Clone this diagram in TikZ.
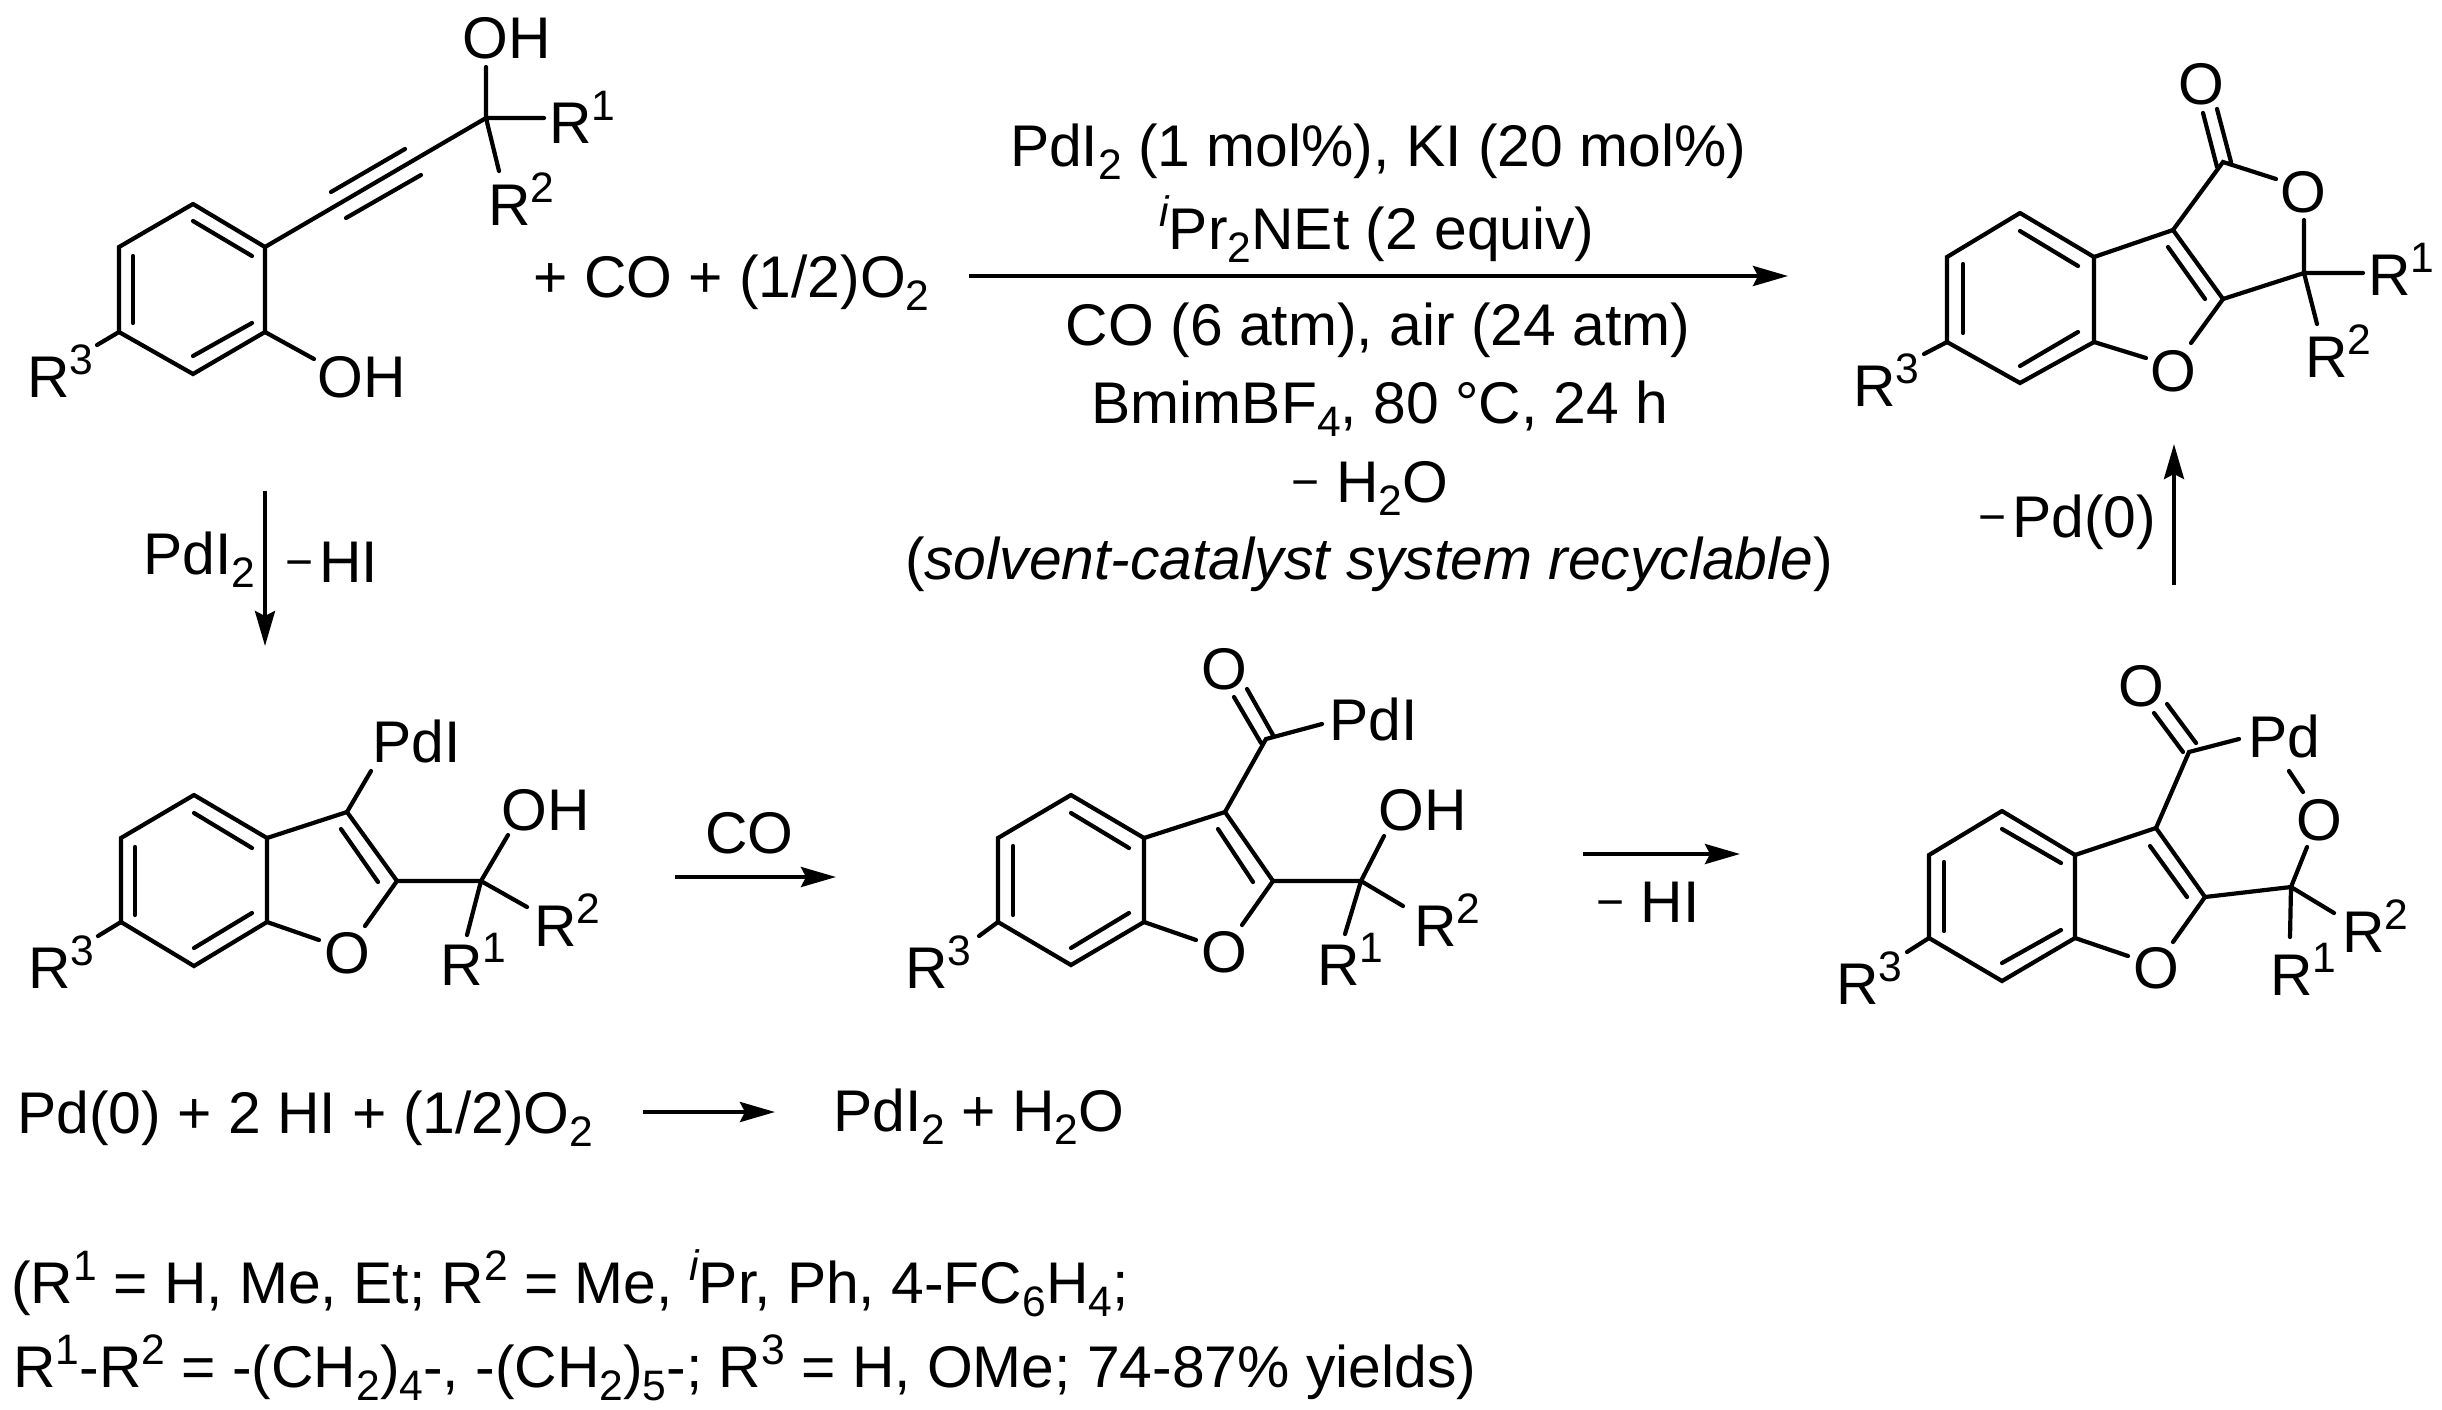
\documentclass[tikz,border=0pt]{standalone}
\usepackage{fontspec}
\setmainfont{Liberation Sans}
\usetikzlibrary{arrows.meta}
\newcommand{\ssup}[1]{\raisebox{11.5pt}{\fontsize{21.3}{21.3}\selectfont #1}}
\newcommand{\ssub}[1]{\raisebox{-6.5pt}{\fontsize{21.3}{21.3}\selectfont #1}}
\newcommand{\mns}{\raisebox{2pt}{\fontsize{24}{24}\selectfont −}}
\begin{document}
\begin{tikzpicture}[x=0.5pt,y=-0.5pt,
	bond/.style={line width=2.1pt,line cap=round},
	rxn/.style={line width=2pt,-{Stealth[length=17.5pt,width=10pt,inset=2.5pt]}},
	atom/.style={inner sep=0pt,anchor=base west,font=\fontsize{29.4}{32}\selectfont},
	atomc/.style={inner sep=0pt,anchor=base,font=\fontsize{29.4}{32}\selectfont}]
\useasboundingbox (0,0) rectangle (2442,1409);
\fill [white] (0,0) rectangle (2442,1409);

\coordinate (sa) at (193,204); \coordinate (sb) at (265,247); \coordinate (sc) at (265,332);
\coordinate (sd) at (193,374); \coordinate (se) at (119,332); \coordinate (sf) at (119,247);
\coordinate (sq) at (486,118); \coordinate (soh) at (486,67); \coordinate (srone) at (544,118);
\coordinate (srtwo) at (499,171); \coordinate (srthr) at (97,345); \coordinate (soht) at (314,359);
\draw [bond] (sa) -- (sb) -- (sc) -- (sd) -- (se) -- (sf) -- (sa);
\draw [bond] (193,221) -- (252,256);
\draw [bond] (133,256) -- (133,323);
\draw [bond] (193,356) -- (252,323);
\draw [bond] (sb) -- (sq) (331,192) -- (405,149) (346,218) -- (421,175);
\draw [bond] (soh) -- (sq) -- (srone) (sq) -- (srtwo);
\draw [bond] (se) -- (srthr) (sc) -- (soht);
\node [atom] (soh1) at (462,58) {OH};
\node [atom] (sr1) at (549,143) {R\ssup{1}};
\node [atom] (sr2) at (488,225) {R\ssup{2}};
\node [atom] (sr3) at (27,397) {R\ssup{3}};
\node [atom] (soh2) at (317,397) {OH};
\node [atom] (splus) at (533,297) {+ CO + (1/2)O\ssub{2}};

\coordinate (mainl) at (969,276); \coordinate (mainr) at (1788,276);
\draw [rxn] (mainl) -- (mainr);
\node [atomc] (cond1) at (1378,166) {PdI\ssub{2} (1 mol\%), KI (20 mol\%)};
\node [atomc] (cond2) at (1377,249) {\ssup{\itshape i}Pr\ssub{2}NEt (2 equiv)};
\node [atomc] (cond3) at (1378,345) {CO (6 atm), air (24 atm)};
\node [atomc] (cond4) at (1380,423) {BmimBF\ssub{4}, 80 °C, 24 h};
\node [atomc] (cond5) at (1370,502) {\mns{} H\ssub{2}O};
\node [atomc] (cond6) at (1369,579) {(\textit{solvent-catalyst system recyclable})};

\coordinate (pa) at (2020,213); \coordinate (pb) at (2094,257); \coordinate (pc) at (2094,342);
\coordinate (pd) at (2020,383); \coordinate (pe) at (1947,342); \coordinate (pf) at (1947,257);
\coordinate (pg) at (2173,230); \coordinate (ph) at (2223,299); \coordinate (pk) at (2223,162);
\coordinate (pq) at (2304,273);
\draw [bond] (pa) -- (pb) -- (pc) -- (pd) -- (pe) -- (pf) -- (pa);
\draw [bond] (2020,231) -- (2078,266);
\draw [bond] (1963,264) -- (1963,333);
\draw [bond] (2020,366) -- (2078,332);
\draw [bond] (pb) -- (pg) -- (ph) -- (pq) (2168,247) -- (2205,299);
\draw [bond] (pc) -- (2146,358) (ph) -- (2191,343);
\draw [bond] (pg) -- (pk) -- (2276,179) (2217,167) -- (2203,113) (2231,162) -- (2217,109);
\draw [bond] (2304,220) -- (pq) -- (2363,273) (pq) -- (2317,324) (pe) -- (1924,354);
\node [atomc] (pox) at (2201,104) {O};
\node [atomc] (po1) at (2303,212) {O};
\node [atomc] (po2) at (2173,391) {O};
\node [atom] (pr1) at (2368,295) {R\ssup{1}};
\node [atom] (pr2) at (2305,377) {R\ssup{2}};
\node [atom] (pr3) at (1853,406) {R\ssup{3}};

\coordinate (upb) at (2174,585); \coordinate (upt) at (2174,444);
\draw [rxn] (upb) -- (upt);
\node [atom] (lpd) at (1978,537) {\mns{}\hspace{3pt}Pd(0)};

\coordinate (dnt) at (265,491); \coordinate (dnb) at (265,646);
\draw [rxn] (dnt) -- (dnb);
\node [atom] (lpdi) at (143,574) {PdI\ssub{2}};
\node [atom] (lhi) at (285,582) {\mns{}\hspace{3pt}HI};

\coordinate (aa) at (194,795); \coordinate (ab) at (267,838); \coordinate (ac) at (267,922);
\coordinate (ad) at (194,966); \coordinate (ae) at (121,922); \coordinate (af) at (121,838);
\coordinate (ag) at (347,812); \coordinate (ah) at (397,881); \coordinate (aq) at (481,881);
\draw [bond] (aa) -- (ab) -- (ac) -- (ad) -- (ae) -- (af) -- (aa);
\draw [bond] (194,813) -- (252,848);
\draw [bond] (135,847) -- (135,915);
\draw [bond] (194,948) -- (252,913);
\draw [bond] (ab) -- (ag) -- (ah) -- (aq) (341,829) -- (378,882);
\draw [bond] (ac) -- (319,940) (ah) -- (365,926) (ag) -- (371,771);
\draw [bond] (aq) -- (508,835) (aq) -- (527,907) (aq) -- (467,935) (ae) -- (98,936);
\node [atomc] (ao) at (347,973) {O};
\node [atom] (apd) at (372,762) {PdI};
\node [atom] (aoh) at (501,830) {OH};
\node [atom] (ar1) at (440,985) {R\ssup{1}};
\node [atom] (ar2) at (534,946) {R\ssup{2}};
\node [atom] (ar3) at (28,988) {R\ssup{3}};

\coordinate (col) at (675,877); \coordinate (cor) at (836,877);
\draw [rxn] (col) -- (cor);
\node [atom] (lco) at (705,853) {CO};

\coordinate (ba) at (1071,795); \coordinate (bb) at (1144,838); \coordinate (bc) at (1144,922);
\coordinate (bd) at (1071,965); \coordinate (be) at (998,922); \coordinate (bf) at (998,838);
\coordinate (bg) at (1225,812); \coordinate (bh) at (1273,881); \coordinate (bk) at (1266,739);
\coordinate (bq) at (1361,881);
\draw [bond] (ba) -- (bb) -- (bc) -- (bd) -- (be) -- (bf) -- (ba);
\draw [bond] (1071,813) -- (1129,848);
\draw [bond] (1013,846) -- (1013,915);
\draw [bond] (1071,948) -- (1129,913);
\draw [bond] (bb) -- (bg) -- (bh) -- (bq) (1218,829) -- (1253,882);
\draw [bond] (bc) -- (1196,940) (bh) -- (1242,925);
\draw [bond] (bg) -- (bk) -- (1322,724) (1234,697) -- (1261,743) (1247,689) -- (1273,735);
\draw [bond] (bq) -- (1384,836) (bq) -- (1403,906) (bq) -- (1345,934) (be) -- (979,936);
\node [atomc] (bo) at (1224,972) {O};
\node [atomc] (box) at (1224,689) {O};
\node [atom] (bpd) at (1329,740) {PdI};
\node [atom] (boh) at (1378,830) {OH};
\node [atom] (br1) at (1317,985) {R\ssup{1}};
\node [atom] (br2) at (1414,946) {R\ssup{2}};
\node [atom] (br3) at (905,988) {R\ssup{3}};

\coordinate (hil) at (1583,854); \coordinate (hir) at (1740,854);
\draw [rxn] (hil) -- (hir);
\node [atom] (lhit) at (1596,922) {\mns{} HI};

\coordinate (ca) at (2002,811); \coordinate (cb) at (2075,855); \coordinate (cc) at (2075,938);
\coordinate (cd) at (2002,981); \coordinate (ce) at (1929,938); \coordinate (cf) at (1929,855);
\coordinate (cg) at (2156,828); \coordinate (ch) at (2205,897); \coordinate (ck) at (2189,752);
\coordinate (cq) at (2291,887);
\draw [bond] (ca) -- (cb) -- (cc) -- (cd) -- (ce) -- (cf) -- (ca);
\draw [bond] (2002,829) -- (2061,863);
\draw [bond] (1944,862) -- (1944,931);
\draw [bond] (2002,963) -- (2061,930);
\draw [bond] (cb) -- (cg) -- (ch) -- (cq) (2150,846) -- (2187,897);
\draw [bond] (cc) -- (2128,956) (ch) -- (2173,942);
\draw [bond] (cg) -- (ck) -- (2239,739) (2154,713) -- (2183,752) (2167,704) -- (2196,743);
\draw [bond] (2289,771) -- (2303,792) (2307,847) -- (cq);
\draw [bond] (cq) -- (2334,913) (cq) -- (2290,937) (ce) -- (1907,952);
\node [atomc] (co) at (2156,988) {O};
\node [atomc] (cox) at (2141,706) {O};
\node [atomc] (cot) at (2319,840) {O};
\node [atom] (cpd) at (2248,757) {Pd};
\node [atom] (cr1) at (2270,995) {R\ssup{1}};
\node [atom] (cr2) at (2342,952) {R\ssup{2}};
\node [atom] (cr3) at (1836,1004) {R\ssup{3}};

\node [atom] (regl) at (17,1133) {Pd(0) + 2 HI + (1/2)O\ssub{2}};
\coordinate (regal) at (643,1112); \coordinate (regar) at (775,1112);
\draw [rxn] (regal) -- (regar);
\node [atom] (regr) at (833,1131) {PdI\ssub{2} + H\ssub{2}O};

\node [atom] (sub1) at (11,1303) {(R\ssup{1} = H, Me, Et; R\ssup{2} = Me, \ssup{\itshape i}Pr, Ph, 4-FC\ssub{6}H\ssub{4};};
\node [atom] (sub2) at (13,1387) {R\ssup{1}-R\ssup{2} = -(CH\ssub{2})\ssub{4}-, -(CH\ssub{2})\ssub{5}-; R\ssup{3} = H, OMe; 74-87\% yields)};
\end{tikzpicture}
\end{document}
